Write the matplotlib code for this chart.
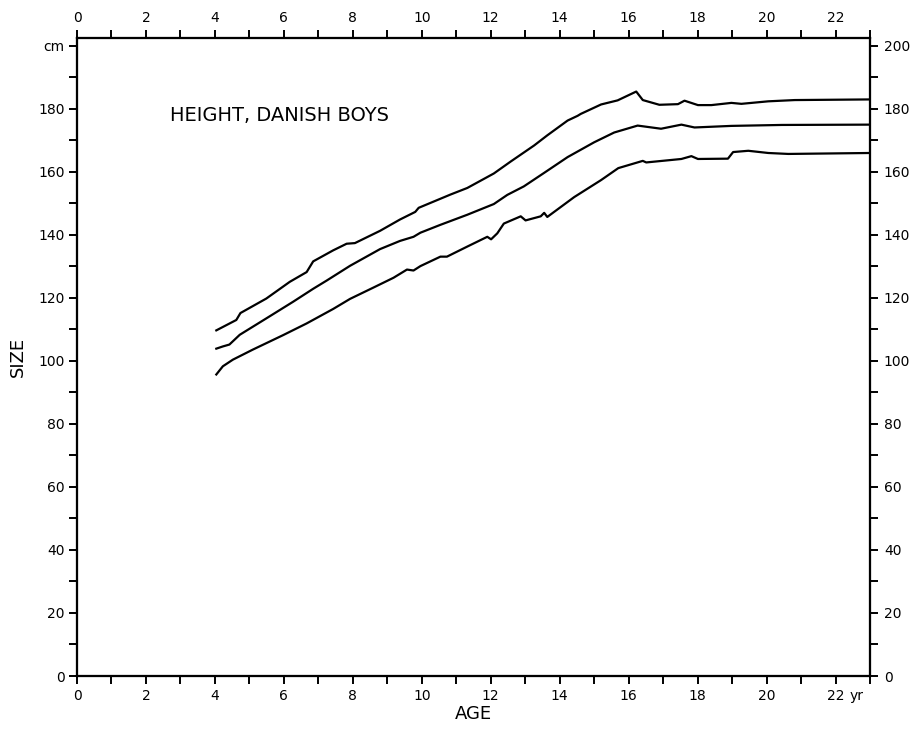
import matplotlib
matplotlib.use("Agg")
import matplotlib.pyplot as plt

# ---- data ----
age_upper = [4.04, 4.62, 4.74, 5.49, 6.17, 6.66, 6.85, 7.43, 7.82, 8.06, 8.79, 9.37, 9.81,
             9.91, 10.83, 11.32, 12.09, 12.58, 13.26, 13.64, 14.23, 14.52, 14.61, 15.20, 15.68,
             16.22, 16.41, 16.89, 17.43, 17.62, 18.01, 18.40, 18.98, 19.27, 20.05, 20.82, 23.0]
height_upper = [109.7, 113.0, 115.2, 119.8, 125.1, 128.2, 131.6, 135.1, 137.2, 137.4, 141.3, 144.9, 147.3,
                148.6, 152.8, 154.9, 159.5, 163.3, 168.4, 171.6, 176.3, 177.8, 178.4, 181.4, 182.7,
                185.5, 182.8, 181.3, 181.5, 182.6, 181.2, 181.2, 181.9, 181.6, 182.4, 182.8, 183.0]

age_middle = [4.04, 4.23, 4.42, 4.72, 5.49, 6.27, 6.85, 7.24, 7.92, 8.79, 9.37, 9.76, 9.96,
              10.54, 11.32, 12.09, 12.48, 12.96, 13.55, 14.23, 15.00, 15.58, 16.26, 16.94,
              17.53, 17.91, 18.98, 20.44, 23.0]
height_middle = [103.9, 104.6, 105.2, 108.3, 113.5, 118.8, 122.9, 125.5, 130.2, 135.5, 138.1, 139.4, 140.7,
                 143.2, 146.4, 149.8, 152.7, 155.4, 159.7, 164.7, 169.4, 172.5, 174.7, 173.7,
                 175.0, 174.1, 174.6, 174.9, 175.0]

age_lower = [4.04, 4.23, 4.52, 5.10, 5.98, 6.66, 7.43, 7.92, 8.60, 9.18, 9.57, 9.76, 9.96,
             10.54, 10.73, 11.32, 11.90, 12.01, 12.19, 12.38, 12.87, 13.01, 13.45, 13.55, 13.64,
             14.42, 15.20, 15.70, 16.41, 16.51, 17.53, 17.82, 18.01, 18.88, 19.03, 19.47,
             20.05, 20.63, 23.0]
height_lower = [95.7, 98.3, 100.4, 103.6, 108.2, 111.9, 116.5, 119.7, 123.3, 126.4, 129.0, 128.7, 130.1,
                133.1, 133.1, 136.3, 139.4, 138.6, 140.5, 143.6, 145.9, 144.6, 145.9, 147.0, 145.7,
                152.0, 157.4, 161.2, 163.5, 163.0, 164.1, 165.0, 164.1, 164.2, 166.3, 166.7,
                166.0, 165.7, 166.0]

x_major = list(range(0, 23, 2))
x_minor = list(range(0, 24, 1))
y_major = list(range(0, 201, 20))
y_minor = list(range(0, 201, 10))
left_labels = [str(v) for v in y_major[:-1]] + ["cm"]
right_labels = [str(v) for v in y_major]
title_text = "HEIGHT, DANISH BOYS"

# ---- figure ----
plt.rcParams['font.family'] = ['DejaVu Sans']
fig = plt.figure(figsize=(9.18, 7.32), dpi=100)
ax = fig.add_axes([0.0839, 0.0765, 0.8638, 0.8716])

for a, h in [(age_upper, height_upper), (age_middle, height_middle), (age_lower, height_lower)]:
    ax.plot(a, h, color="black", lw=1.6, solid_joinstyle="round")

ax.set_xlim(0, 23)
ax.set_ylim(0, 202.5)
for s in ax.spines.values():
    s.set_linewidth(1.5)

tick_kw = dict(direction="out", length=6, width=1.4, colors="black", labelsize=10)
ax.set_xticks(x_major)
ax.set_xticks(x_minor, minor=True)
ax.set_yticks(y_major)
ax.set_yticks(y_minor, minor=True)
ax.set_yticklabels(left_labels)
ax.tick_params(axis="both", which="both", **tick_kw)
ax.tick_params(axis="x", which="both", pad=3)
ax.tick_params(axis="y", which="both", pad=3)

ax_r = ax.twinx()
ax_r.set_ylim(ax.get_ylim())
ax_r.set_yticks(y_major)
ax_r.set_yticks(y_minor, minor=True)
ax_r.set_yticklabels(right_labels)
ax_r.tick_params(axis="y", which="both", pad=4, **tick_kw)

ax_t = ax.twiny()
ax_t.set_xlim(ax.get_xlim())
ax_t.set_xticks(x_major)
ax_t.set_xticks(x_minor, minor=True)
ax_t.tick_params(axis="x", which="both", pad=3, **tick_kw)
for a in (ax_r, ax_t):
    for s in a.spines.values():
        s.set_linewidth(1.5)

ax.annotate("yr", xy=(22.6, 0), xycoords=("data", "axes fraction"),
            xytext=(0, -9), textcoords="offset points", ha="center", va="top", fontsize=10)

ax.text(2.7, 178, title_text, fontsize=14, ha="left", va="center")
ax.set_xlabel("AGE", fontsize=13, labelpad=2)
ax.set_ylabel("SIZE", fontsize=13, labelpad=8)

fig.savefig("out.png", dpi=100)
